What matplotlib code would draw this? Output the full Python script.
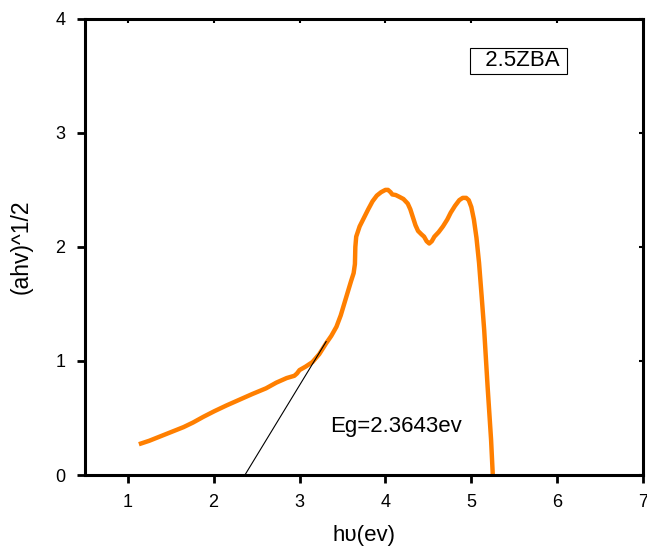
import matplotlib.pyplot as plt

plt.rcParams['font.family'] = ['Liberation Sans', 'DejaVu Sans']

# photon energy (eV) and (ahv)^1/2
energy = [1.13, 1.25, 1.35, 1.45, 1.55, 1.65, 1.76, 1.88, 2.01, 2.15, 2.30, 2.45,
          2.61, 2.73, 2.85, 2.94, 2.97, 3.00, 3.07, 3.15, 3.23, 3.31, 3.37, 3.43,
          3.48, 3.52, 3.56, 3.60, 3.63, 3.645, 3.65, 3.66, 3.70, 3.76, 3.80, 3.85,
          3.90, 3.95, 4.00, 4.03, 4.06, 4.08, 4.12, 4.16, 4.21, 4.26, 4.29, 4.32,
          4.35, 4.38, 4.42, 4.45, 4.48, 4.51, 4.54, 4.57, 4.62, 4.67, 4.72, 4.76,
          4.81, 4.86, 4.90, 4.94, 4.97, 5.00, 5.03, 5.06, 5.09, 5.12, 5.15, 5.17,
          5.19, 5.21, 5.23, 5.25]
absorb = [0.27, 0.30, 0.33, 0.36, 0.39, 0.42, 0.46, 0.51, 0.56, 0.61, 0.66, 0.71,
          0.76, 0.81, 0.85, 0.87, 0.89, 0.92, 0.95, 0.99, 1.06, 1.155, 1.22, 1.30,
          1.40, 1.50, 1.60, 1.70, 1.77, 1.85, 2.00, 2.09, 2.18, 2.27, 2.33, 2.40,
          2.45, 2.48, 2.50, 2.50, 2.48, 2.46, 2.455, 2.44, 2.42, 2.38, 2.33, 2.26,
          2.19, 2.14, 2.11, 2.09, 2.05, 2.03, 2.05, 2.09, 2.13, 2.18, 2.24, 2.30,
          2.36, 2.41, 2.43, 2.43, 2.41, 2.35, 2.24, 2.08, 1.86, 1.57, 1.27, 1.02,
          0.77, 0.54, 0.31, 0.0]

# linear fit of the absorption edge, extrapolated to zero
eg = 2.3643
fit_x = [eg, 3.31]
fit_y = [0.0, 1.17]

fig = plt.figure(figsize=(6.47, 5.47), dpi=100)
ax = fig.add_axes([0.131, 0.1316, 0.863, 0.834])

ax.plot(energy, absorb, color='#ff7f00', lw=3.2, solid_capstyle='butt',
        solid_joinstyle='round')
ax.plot(fit_x, fit_y, color='black', lw=0.8)

ax.text(3.36, 0.424, 'Eg=%.4fev' % eg, fontsize=16, va='center', ha='left')
ax.text(0.695, 0.908, '  2.5ZBA ', transform=ax.transAxes, fontsize=16,
        va='center', ha='left',
        bbox=dict(boxstyle='square,pad=0.12', fc='white', ec='black', lw=0.8))

ax.set_xlim(0.5, 7)
ax.set_ylim(0, 4)
ax.set_xticks(range(1, 8))
ax.set_yticks(range(0, 5))
ax.set_xlabel('hυ(ev)', fontsize=16, labelpad=10)
ax.set_ylabel('(ahv)^1/2', fontsize=16.5, labelpad=16)

for s in ax.spines.values():
    s.set_linewidth(2.2)
ax.tick_params(axis='both', which='major', labelsize=13, width=2, length=6,
               direction='out', pad=8, top=False, right=False)

# short inward marks on the top and right frame
sec_x = ax.secondary_xaxis('top')
sec_x.set_xticks(range(1, 8))
sec_x.tick_params(direction='in', length=3, width=1.5, labeltop=False)
sec_x.spines['top'].set_visible(False)
sec_y = ax.secondary_yaxis('right')
sec_y.set_yticks(range(0, 5))
sec_y.tick_params(direction='in', length=3, width=1.5, labelright=False)
sec_y.spines['right'].set_visible(False)

fig.savefig('out.png', dpi=100)
